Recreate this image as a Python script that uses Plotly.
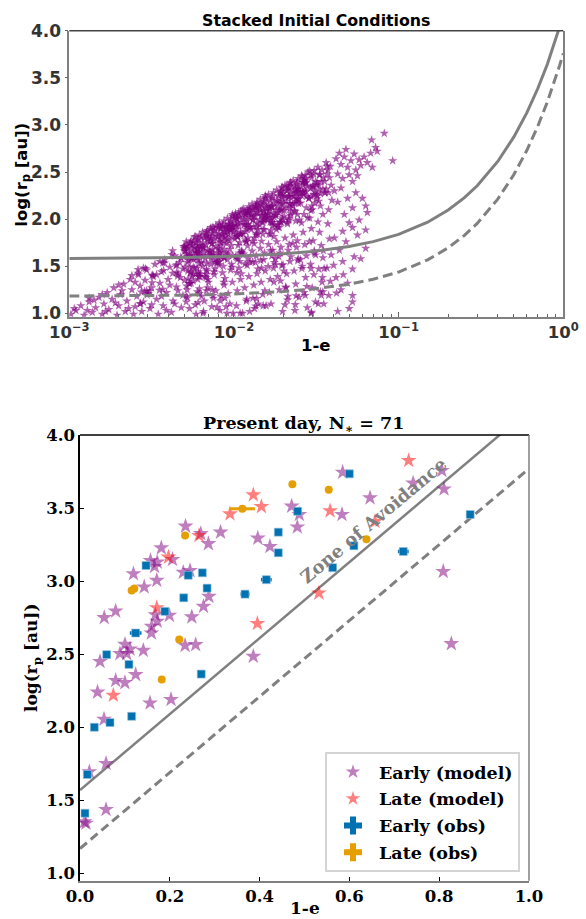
import plotly.graph_objects as go

W, H = 586, 919

# ---------------- TOP PANEL DATA: (log10(1-e), log10(r_p/au)) ----------------
ic_left = [
    (-2.99, 0.99), (-2.96, 1.03), (-2.93, 1.08), (-2.91, 0.98), (-2.88, 1.12), (-2.86, 1.01), (-2.84, 1.06),
    (-2.82, 1.17), (-2.80, 0.99), (-2.79, 1.10), (-2.77, 1.22), (-2.76, 1.04), (-2.74, 1.15), (-2.73, 1.27),
    (-2.71, 0.98), (-2.70, 1.08), (-2.69, 1.20), (-2.67, 1.31), (-2.66, 1.02), (-2.65, 1.13), (-2.63, 1.36),
    (-2.62, 1.25), (-2.61, 0.99), (-2.60, 1.07), (-2.59, 1.18), (-2.58, 1.41), (-2.57, 1.29), (-2.56, 1.02),
    (-2.55, 1.12), (-2.54, 1.35), (-2.53, 1.46), (-2.52, 1.21), (-2.51, 1.05), (-2.50, 1.27), (-2.49, 1.39),
    (-2.48, 1.52), (-2.47, 1.15), (-2.46, 0.99), (-2.45, 1.32), (-2.44, 1.44), (-2.43, 1.08), (-2.42, 1.57),
    (-2.41, 1.22), (-2.40, 1.36), (-2.39, 1.49), (-2.38, 1.01), (-2.37, 1.13), (-2.36, 1.61), (-2.35, 1.28),
    (-2.34, 1.42), (-2.33, 1.54), (-2.32, 1.06), (-2.31, 1.19), (-2.30, 1.66), (-2.30, 1.35), (-2.31, 1.47),
    (-2.97, 1.05), (-2.89, 1.03), (-2.85, 1.14), (-2.78, 1.02), (-2.72, 1.11), (-2.68, 1.24), (-2.64, 1.05),
    (-2.60, 1.33), (-2.57, 1.10), (-2.53, 1.24), (-2.50, 1.09), (-2.47, 1.41), (-2.44, 1.18), (-2.41, 1.03),
    (-2.39, 1.30), (-2.36, 1.10), (-2.34, 1.24), (-2.32, 1.58), (-2.325, 1.38), (-2.45, 1.55), (-2.55, 1.48),
    (-2.62, 1.40), (-2.70, 1.30), (-2.80, 1.20), (-2.88, 1.16),
    (-2.5625, 1.225), (-2.5825, 1.465), (-2.5675, 1.105), (-2.5825, 1.425),
    (-2.5125, 1.235), (-2.5375, 1.475), (-2.5425, 1.235), (-2.5275, 1.195),
    (-2.4975, 1.325), (-2.4525, 1.245), (-2.4975, 1.405), (-2.4925, 1.405),
    (-2.4225, 1.535), (-2.4325, 1.535), (-2.4275, 1.455), (-2.4325, 1.255),
    (-2.3725, 1.665), (-2.3775, 1.625), (-2.3525, 1.505), (-2.3725, 1.425),
    (-2.3425, 1.395), (-2.3475, 1.515), (-2.3225, 1.595), (-2.3475, 1.435),
]

ic_core_a = [
    (-2.29, 1.76), (-2.28, 1.70), (-2.27, 1.64), (-2.26, 1.58), (-2.295, 1.66), (-2.285, 1.60), (-2.265, 1.74),
    (-2.255, 1.68), (-2.275, 1.56), (-2.26, 1.77), (-2.29, 1.72), (-2.27, 1.61),
    (-2.28, 1.45), (-2.26, 1.32), (-2.29, 1.18), (-2.27, 1.05), (-2.255, 1.39), (-2.285, 1.25),
    (-2.24, 1.81), (-2.23, 1.75), (-2.22, 1.69), (-2.21, 1.62), (-2.245, 1.57), (-2.235, 1.66), (-2.215, 1.79),
    (-2.205, 1.72), (-2.225, 1.59), (-2.21, 1.83), (-2.24, 1.70), (-2.22, 1.77), (-2.23, 1.64),
    (-2.24, 1.48), (-2.22, 1.36), (-2.21, 1.21), (-2.235, 1.09), (-2.215, 1.42), (-2.23, 0.99),
    (-2.19, 1.86), (-2.18, 1.80), (-2.17, 1.73), (-2.16, 1.67), (-2.195, 1.61), (-2.185, 1.70), (-2.165, 1.84),
    (-2.155, 1.77), (-2.175, 1.58), (-2.16, 1.88), (-2.19, 1.75), (-2.17, 1.82), (-2.18, 1.64),
    (-2.19, 1.50), (-2.17, 1.38), (-2.16, 1.27), (-2.18, 1.13), (-2.165, 1.45), (-2.185, 1.02), (-2.155, 1.33),
    (-2.14, 1.91), (-2.13, 1.85), (-2.12, 1.78), (-2.11, 1.71), (-2.145, 1.65), (-2.135, 1.74), (-2.115, 1.89),
    (-2.105, 1.82), (-2.125, 1.62), (-2.11, 1.93), (-2.14, 1.80), (-2.12, 1.87), (-2.13, 1.68),
    (-2.14, 1.52), (-2.12, 1.41), (-2.11, 1.24), (-2.135, 1.07), (-2.115, 1.47), (-2.125, 1.16),
    (-2.09, 1.96), (-2.08, 1.90), (-2.07, 1.83), (-2.06, 1.76), (-2.095, 1.69), (-2.085, 1.79), (-2.065, 1.94),
    (-2.055, 1.87), (-2.075, 1.65), (-2.06, 1.98), (-2.09, 1.85), (-2.07, 1.92), (-2.08, 1.72),
    (-2.09, 1.55), (-2.07, 1.43), (-2.06, 1.30), (-2.08, 1.18), (-2.065, 1.50), (-2.085, 1.03), (-2.055, 1.37),
    (-2.04, 2.01), (-2.03, 1.95), (-2.02, 1.88), (-2.01, 1.81), (-2.045, 1.74), (-2.035, 1.84), (-2.015, 1.99),
    (-2.005, 1.92), (-2.025, 1.68), (-2.01, 2.03), (-2.04, 1.90), (-2.02, 1.97), (-2.03, 1.77),
    (-2.04, 1.57), (-2.02, 1.46), (-2.01, 1.33), (-2.035, 1.21), (-2.015, 1.52), (-2.025, 1.10), (-2.005, 1.00),
    (-1.99, 2.06), (-1.98, 2.00), (-1.97, 1.93), (-1.96, 1.86), (-1.995, 1.79), (-1.985, 1.89), (-1.965, 2.04),
    (-1.955, 1.97), (-1.975, 1.72), (-1.96, 2.08), (-1.99, 1.95), (-1.97, 2.02), (-1.98, 1.82), (-1.965, 1.75),
    (-1.99, 1.60), (-1.97, 1.48), (-1.96, 1.36), (-1.98, 1.24), (-1.965, 1.55), (-1.985, 1.08), (-1.955, 1.42),
]

ic_core_b = [
    (-1.94, 2.11), (-1.93, 2.05), (-1.92, 1.98), (-1.91, 1.91), (-1.945, 1.84), (-1.935, 1.94), (-1.915, 2.09),
    (-1.905, 2.02), (-1.925, 1.76), (-1.91, 2.13), (-1.94, 2.00), (-1.92, 2.07), (-1.93, 1.87), (-1.915, 1.80),
    (-1.94, 1.63), (-1.92, 1.51), (-1.91, 1.39), (-1.935, 1.27), (-1.915, 1.58), (-1.925, 1.13), (-1.905, 1.02),
    (-1.89, 2.16), (-1.88, 2.10), (-1.87, 2.03), (-1.86, 1.96), (-1.895, 1.89), (-1.885, 1.99), (-1.865, 2.14),
    (-1.855, 2.07), (-1.875, 1.80), (-1.86, 2.18), (-1.89, 2.05), (-1.87, 2.12), (-1.88, 1.92), (-1.865, 1.85),
    (-1.89, 1.66), (-1.87, 1.54), (-1.86, 1.42), (-1.88, 1.30), (-1.865, 1.61), (-1.885, 1.16), (-1.855, 1.47),
    (-1.875, 1.05),
    (-1.84, 2.21), (-1.83, 2.15), (-1.82, 2.08), (-1.81, 2.01), (-1.845, 1.94), (-1.835, 2.04), (-1.815, 2.19),
    (-1.805, 2.12), (-1.825, 1.84), (-1.81, 2.23), (-1.84, 2.10), (-1.82, 2.17), (-1.83, 1.97), (-1.815, 1.89),
    (-1.84, 1.69), (-1.82, 1.57), (-1.81, 1.45), (-1.835, 1.33), (-1.815, 1.64), (-1.825, 1.20), (-1.805, 1.08),
    (-1.79, 2.26), (-1.78, 2.20), (-1.77, 2.13), (-1.76, 2.06), (-1.795, 1.99), (-1.785, 2.09), (-1.765, 2.24),
    (-1.755, 2.17), (-1.775, 1.88), (-1.76, 2.28), (-1.79, 2.15), (-1.77, 2.22), (-1.78, 2.02), (-1.765, 1.93),
    (-1.79, 1.73), (-1.77, 1.61), (-1.76, 1.48), (-1.78, 1.36), (-1.765, 1.67), (-1.785, 1.22), (-1.755, 1.54),
    (-1.775, 1.10),
    (-1.74, 2.31), (-1.73, 2.25), (-1.72, 2.18), (-1.71, 2.11), (-1.745, 2.04), (-1.735, 2.14), (-1.715, 2.29),
    (-1.705, 2.22), (-1.725, 1.91), (-1.71, 2.33), (-1.74, 2.20), (-1.72, 2.27), (-1.73, 2.07), (-1.715, 1.97),
    (-1.74, 1.76), (-1.72, 1.64), (-1.71, 1.51), (-1.735, 1.39), (-1.715, 1.70), (-1.725, 1.25), (-1.705, 1.02),
    (-1.69, 2.36), (-1.68, 2.30), (-1.67, 2.23), (-1.66, 2.16), (-1.695, 2.09), (-1.685, 2.19), (-1.665, 2.34),
    (-1.655, 2.27), (-1.675, 1.95), (-1.66, 2.38), (-1.69, 2.25), (-1.67, 2.32), (-1.68, 2.12), (-1.665, 2.01),
    (-1.69, 1.80), (-1.67, 1.67), (-1.66, 1.55), (-1.68, 1.42), (-1.665, 1.73), (-1.685, 1.28), (-1.655, 1.60),
    (-1.675, 1.14),
    (-1.64, 2.41), (-1.63, 2.35), (-1.62, 2.28), (-1.61, 2.21), (-1.645, 2.14), (-1.635, 2.24), (-1.615, 2.39),
    (-1.605, 2.32), (-1.625, 1.98), (-1.61, 2.43), (-1.64, 2.30), (-1.62, 2.37), (-1.63, 2.17), (-1.615, 2.05),
    (-1.64, 1.83), (-1.62, 1.70), (-1.61, 1.58), (-1.635, 1.45), (-1.615, 1.77), (-1.625, 1.31), (-1.605, 1.17),
    (-1.63, 1.03),
]

ic_core_fill = [
    (-2.303, 1.69), (-2.283, 1.54), (-2.288, 1.69), (-2.298, 1.49), (-2.288, 1.29),
    (-2.278, 1.365), (-2.273, 1.315), (-2.248, 1.415), (-2.268, 1.315), (-2.258, 1.615),
    (-2.2225, 1.69), (-2.2475, 1.49), (-2.2525, 1.59), (-2.2275, 1.64), (-2.2175, 1.64),
    (-2.2175, 1.565), (-2.2325, 1.815), (-2.1925, 1.715), (-2.2025, 1.415), (-2.2325, 1.415),
    (-2.1975, 1.54), (-2.1775, 1.39), (-2.1875, 1.69), (-2.2075, 1.39), (-2.2125, 1.39),
    (-2.1525, 1.615), (-2.1675, 1.465), (-2.1425, 1.765), (-2.1675, 1.865), (-2.1675, 1.415),
    (-2.1275, 1.64), (-2.1225, 1.44), (-2.1575, 1.79), (-2.1325, 1.74), (-2.1425, 1.89),
    (-2.1275, 1.915), (-2.1375, 1.615), (-2.0975, 1.815), (-2.0925, 1.515), (-2.0925, 1.615),
    (-2.0975, 1.54), (-2.0925, 1.64), (-2.0725, 1.84), (-2.1025, 1.54), (-2.0875, 1.94),
    (-2.0525, 1.815), (-2.0875, 1.765), (-2.0575, 1.865), (-2.0525, 1.915), (-2.0425, 1.915),
    (-2.0625, 1.59), (-2.0225, 1.89), (-2.0325, 1.94), (-2.0375, 1.79), (-2.0575, 1.59),
    (-2.0375, 1.865), (-2.0075, 1.915), (-2.0075, 1.615), (-2.0175, 1.915), (-2.0025, 1.865),
    (-1.9925, 2.04), (-1.9825, 1.59), (-2.0125, 1.89), (-1.9675, 1.64), (-1.9875, 1.84),
    (-1.9775, 1.815), (-1.9725, 2.065), (-1.9825, 1.815), (-1.9525, 1.665), (-1.9775, 1.965),
    (-1.9625, 1.84), (-1.9225, 1.94), (-1.9575, 1.84), (-1.9525, 1.64), (-1.9225, 1.89),
    (-1.9025, 1.915), (-1.9175, 1.715), (-1.9125, 2.065), (-1.9375, 2.065), (-1.9275, 2.065),
    (-1.8775, 1.74), (-1.9125, 1.94), (-1.9075, 2.09), (-1.8675, 2.14), (-1.8975, 2.04),
    (-1.8875, 1.765), (-1.8625, 1.915), (-1.8625, 2.065), (-1.8625, 2.115), (-1.8425, 2.115),
    (-1.8525, 1.89), (-1.8175, 1.99), (-1.8425, 1.99), (-1.8225, 1.89), (-1.8175, 2.09),
    (-1.8225, 1.965), (-1.7975, 2.015), (-1.8325, 1.765), (-1.7925, 2.065), (-1.8075, 2.215),
    (-1.8075, 2.04), (-1.8125, 2.04), (-1.7675, 2.14), (-1.7775, 1.84), (-1.7875, 1.84),
    (-1.7725, 1.965), (-1.7675, 1.965), (-1.7675, 2.015), (-1.7575, 1.815), (-1.7825, 2.115),
    (-1.7325, 2.19), (-1.7425, 1.89), (-1.7225, 2.09), (-1.7525, 1.94), (-1.7475, 2.04),
    (-1.6975, 2.165), (-1.7225, 1.965), (-1.7325, 1.915), (-1.7075, 2.015), (-1.7125, 1.965),
    (-1.7075, 2.24), (-1.6675, 1.99), (-1.7125, 2.29), (-1.6675, 2.24), (-1.7075, 2.34),
    (-1.6625, 2.165), (-1.6575, 2.115), (-1.6575, 2.065), (-1.6425, 2.165), (-1.6775, 1.965),
    (-1.6425, 2.24), (-1.6225, 2.19), (-1.6325, 2.09), (-1.6575, 2.39), (-1.6625, 2.24),
    (-1.6075, 2.215), (-1.6075, 2.165), (-1.6175, 2.215), (-1.5975, 2.265), (-1.6275, 2.315),
    (-1.5825, 2.39), (-1.6125, 2.29), (-1.5775, 2.29), (-1.6025, 1.99), (-1.5825, 2.29),
    (-1.5675, 2.465), (-1.5825, 2.365), (-1.5775, 2.265), (-1.5525, 2.015), (-1.5725, 2.415),
    (-1.5275, 2.14), (-1.5625, 2.39), (-1.5625, 2.29), (-1.5325, 2.24), (-1.5325, 2.09),
    (-1.5125, 2.515), (-1.4975, 2.215), (-1.4975, 2.365), (-1.5325, 2.465), (-1.5025, 2.265),
]

ic_core_upper = [
    (-2.200, 1.69), (-2.210, 1.53), (-2.165, 1.53), (-2.200, 1.81), (-2.210, 1.65),
    (-2.115, 1.54), (-2.150, 1.66), (-2.135, 1.82), (-2.140, 1.58), (-2.160, 1.82),
    (-2.095, 1.59), (-2.080, 1.91), (-2.090, 1.67), (-2.095, 1.91), (-2.080, 1.75),
    (-2.015, 1.72), (-2.060, 1.68), (-2.045, 1.64), (-2.030, 1.92), (-2.060, 1.80),
    (-2.010, 2.05), (-1.985, 2.01), (-1.995, 2.01), (-2.010, 1.93), (-1.985, 1.93),
    (-1.940, 1.94), (-1.930, 1.78), (-1.925, 1.76), (-1.935, 2.02), (-1.950, 2.10),
    (-1.890, 2.11), (-1.880, 2.03), (-1.865, 1.83), (-1.885, 1.99), (-1.905, 2.11),
    (-1.855, 1.84), (-1.830, 2.04), (-1.860, 2.16), (-1.815, 2.00), (-1.840, 2.16),
    (-1.800, 2.13), (-1.775, 2.13), (-1.810, 2.25), (-1.795, 2.05), (-1.780, 1.97),
    (-1.715, 2.10), (-1.755, 2.02), (-1.710, 2.16), (-1.735, 1.94), (-1.745, 2.10),
    (-1.680, 2.35), (-1.705, 1.99), (-1.705, 2.27), (-1.675, 2.31), (-1.695, 2.03),
    (-1.630, 2.08), (-1.655, 2.36), (-1.655, 2.04), (-1.625, 2.28), (-1.615, 2.32),
    (-1.605, 2.33), (-1.570, 2.41), (-1.585, 2.45), (-1.590, 2.25), (-1.565, 2.38),
    (-1.550, 2.50), (-1.545, 2.22), (-1.525, 2.34), (-1.515, 2.34), (-1.515, 2.26),
    (-1.485, 2.31), (-1.480, 2.47), (-1.475, 2.27), (-1.495, 2.39), (-1.485, 2.19),
    (-1.435, 2.56), (-1.450, 2.28), (-1.425, 2.28), (-1.450, 2.40), (-1.440, 2.32),
    (-2.225, 1.48), (-2.215, 1.44), (-2.245, 1.76), (-2.220, 1.72), (-2.255, 1.72),
    (-2.265, 1.43), (-2.290, 1.63), (-2.265, 1.75), (-2.305, 1.71), (-2.300, 1.71),
]

ic_core_lower = [
    (-2.2675, 1.495), (-2.2625, 1.440), (-2.2825, 1.165), (-2.2900, 1.120),
    (-2.2475, 1.342), (-2.2175, 1.114), (-2.2225, 1.228), (-2.2100, 1.260),
    (-2.1575, 1.360), (-2.1675, 1.240), (-2.1975, 1.180), (-2.1875, 1.000),
    (-2.1025, 1.063), (-2.1275, 1.189), (-2.1175, 1.567), (-2.1325, 1.252),
    (-2.0775, 1.594), (-2.0625, 1.330), (-2.0825, 1.132), (-2.0550, 1.160),
    (-2.0475, 1.070), (-2.0375, 1.630), (-2.0425, 1.000), (-2.0125, 1.490),
    (-1.9525, 1.648), (-1.9775, 1.576), (-1.9825, 1.432), (-1.9625, 1.000),
    (-1.9475, 1.000), (-1.9225, 1.150), (-1.9325, 1.525), (-1.9025, 1.545),
    (-1.8625, 1.156), (-1.8675, 1.078), (-1.8875, 1.546), (-1.8525, 1.100),
    (-1.8125, 1.240), (-1.8225, 1.080), (-1.8375, 1.560), (-1.8325, 1.480),
    (-1.7775, 1.664), (-1.7575, 1.332), (-1.7925, 1.498), (-1.7500, 1.581),
    (-1.7175, 1.344), (-1.7025, 1.516), (-1.7275, 1.602), (-1.7475, 1.516),
    (-1.6975, 1.450), (-1.6900, 1.090), (-1.6850, 1.270), (-1.6725, 1.180),
    (-1.6125, 1.558), (-1.6425, 1.744), (-1.6275, 1.093), (-1.6225, 1.186),
    (-1.5675, 1.190), (-1.5975, 1.570), (-1.5575, 1.285), (-1.5875, 1.475),
    (-1.5125, 1.665), (-1.5050, 1.620), (-1.5425, 1.760), (-1.5325, 1.475),
    (-1.4625, 1.380), (-1.4700, 1.190), (-1.4575, 1.665), (-1.4525, 1.475),
]

ic_mid = [
    (-1.59, 2.46), (-1.58, 2.39), (-1.57, 2.31), (-1.56, 2.24), (-1.595, 2.17), (-1.585, 2.28), (-1.565, 2.43),
    (-1.555, 2.35), (-1.575, 2.05), (-1.56, 2.12), (-1.59, 1.96),
    (-1.58, 1.86), (-1.57, 1.73), (-1.56, 1.61), (-1.585, 1.50), (-1.565, 1.38), (-1.575, 1.22), (-1.555, 1.06),
    (-1.54, 2.51), (-1.53, 2.44), (-1.52, 2.36), (-1.51, 2.29), (-1.545, 2.22), (-1.535, 2.33), (-1.515, 2.48),
    (-1.505, 2.40), (-1.525, 2.10), (-1.51, 2.17), (-1.54, 2.01),
    (-1.53, 1.90), (-1.52, 1.77), (-1.51, 1.64), (-1.535, 1.52), (-1.515, 1.41), (-1.525, 1.27), (-1.505, 1.12),
    (-1.53, 1.01),
    (-1.49, 2.55), (-1.48, 2.47), (-1.47, 2.40), (-1.46, 2.32), (-1.495, 2.25), (-1.485, 2.36), (-1.465, 2.52),
    (-1.455, 2.44), (-1.475, 2.14), (-1.46, 2.05), (-1.49, 1.97),
    (-1.48, 1.86), (-1.47, 1.72), (-1.46, 1.59), (-1.485, 1.47), (-1.465, 1.33), (-1.475, 1.23), (-1.455, 1.10),
    (-1.44, 2.60), (-1.43, 2.52), (-1.42, 2.44), (-1.41, 2.36), (-1.445, 2.28), (-1.435, 2.48), (-1.415, 2.56),
    (-1.405, 2.20), (-1.425, 2.10),
    (-1.43, 1.95), (-1.42, 1.79), (-1.41, 1.62), (-1.435, 1.48), (-1.415, 1.34), (-1.425, 1.19),
]

ic_right = [
    (-1.38, 2.64), (-1.36, 2.70), (-1.35, 2.58), (-1.33, 2.66), (-1.32, 2.74), (-1.31, 2.55), (-1.29, 2.62),
    (-1.27, 2.69), (-1.26, 2.52), (-1.24, 2.63), (-1.23, 2.57), (-1.21, 2.66), (-1.37, 2.48), (-1.34, 2.43),
    (-1.30, 2.47), (-1.28, 2.40), (-1.25, 2.46),
    (-1.087, 2.91), (-1.036, 2.62), (-1.164, 2.84), (-1.14, 2.76), (-1.13, 2.72), (-1.17, 2.70), (-1.19, 2.60),
    (-1.16, 2.55),
    (-1.39, 2.30), (-1.37, 2.18), (-1.35, 2.33), (-1.33, 2.05), (-1.31, 2.22), (-1.30, 1.96), (-1.28, 2.12),
    (-1.26, 2.28), (-1.22, 2.22), (-1.20, 2.14), (-1.19, 2.07), (-1.20, 1.885), (-1.28, 1.91), (-1.20, 1.69),
    (-1.27, 1.60), (-1.23, 1.58), (-1.28, 1.47), (-1.336, 1.41), (-1.28, 1.19), (-1.28, 1.12), (-1.488, 1.10),
    (-1.53, 1.00), (-1.377, 1.215), (-1.35, 1.25), (-1.46, 1.23), (-1.39, 1.80), (-1.36, 1.67), (-1.34, 1.55),
    (-1.32, 1.76), (-1.38, 1.38), (-1.31, 1.32), (-1.25, 1.83), (-1.24, 1.99), (-1.34, 1.87), (-1.395, 1.51),
    (-1.30, 1.05), (-1.37, 1.02),
]

ic_all = ic_left + ic_core_a + ic_core_b + ic_core_fill + ic_core_upper + ic_core_lower + ic_mid + ic_right
ic_one_minus_e = [10 ** lx for lx, _ in ic_all]
ic_log_rp = [lr for _, lr in ic_all]

# zone-of-avoidance boundaries
zoa_top_x = [0.001, 0.002, 0.005, 0.01, 0.02, 0.03, 0.05, 0.07, 0.1, 0.15, 0.2, 0.25, 0.3, 0.4,
             0.5, 0.6, 0.7, 0.8, 0.9, 0.95, 1.0]
zoa_top_solid = [1.583, 1.585, 1.593, 1.606, 1.632, 1.657, 1.709, 1.761, 1.838, 1.967, 2.096, 2.225,
                 2.354, 2.612, 2.870, 3.128, 3.386, 3.644, 3.902, 4.031, 4.160]
zoa_top_dashed = [1.183, 1.185, 1.193, 1.206, 1.232, 1.257, 1.309, 1.361, 1.438, 1.567, 1.696, 1.825,
                  1.954, 2.212, 2.470, 2.728, 2.986, 3.244, 3.502, 3.631, 3.760]

# ---------------- BOTTOM PANEL DATA ----------------
early_model_x = [0.235, 0.269, 0.286, 0.313, 0.181, 0.157, 0.172, 0.166, 0.206, 0.119, 0.171, 0.143,
                 0.230, 0.245, 0.287, 0.275, 0.249, 0.199, 0.168, 0.172, 0.1596, 0.159, 0.0794, 0.054,
                 0.1002, 0.089, 0.104, 0.1115, 0.141, 0.234, 0.2576, 0.0445, 0.124, 0.0794, 0.100, 0.039,
                 0.156, 0.2027, 0.0535, 0.0208, 0.058, 0.058, 0.0097, 0.0134, 0.386, 0.396, 0.423, 0.4714,
                 0.4885, 0.484, 0.585, 0.806, 0.742, 0.8107, 0.646, 0.5835, 0.809, 0.827]
early_model_y = [3.376, 3.325, 3.256, 3.335, 3.227, 3.141, 3.130, 3.100, 3.148, 3.050, 3.005, 2.960,
                 3.060, 3.072, 2.895, 2.827, 2.755, 2.766, 2.770, 2.725, 2.690, 2.645, 2.795, 2.750,
                 2.567, 2.504, 2.504, 2.535, 2.526, 2.560, 2.565, 2.450, 2.360, 2.320, 2.305, 2.240,
                 2.166, 2.190, 2.055, 1.695, 1.752, 1.437, 1.352, 1.343, 2.485, 3.294, 3.237, 3.513,
                 3.456, 3.370, 3.745, 3.757, 3.670, 3.630, 3.570, 3.456, 3.066, 2.572]

late_model_x = [0.386, 0.404, 0.334, 0.265, 0.197, 0.171, 0.395, 0.0742, 0.732, 0.557, 0.657, 0.532]
late_model_y = [3.590, 3.510, 3.460, 3.312, 3.164, 2.818, 2.710, 2.219, 3.825, 3.481, 3.408, 2.918]

early_obs_x = [0.147, 0.241, 0.2725, 0.283, 0.231, 0.189, 0.124, 0.0594, 0.109, 0.270, 0.115, 0.0668,
               0.0319, 0.0163, 0.0111, 0.3675, 0.415, 0.4417, 0.4417, 0.4848, 0.600, 0.610, 0.5628,
               0.720, 0.869]
early_obs_y = [3.107, 3.040, 3.057, 2.952, 2.886, 2.793, 2.645, 2.497, 2.430, 2.364, 2.075, 2.032,
               2.000, 1.677, 1.412, 2.911, 3.010, 3.335, 3.194, 3.478, 3.734, 3.242, 3.092,
               3.203, 3.456]
early_obs_xerr = [0, 0.009, 0, 0, 0, 0, 0.013, 0, 0, 0, 0, 0,
                  0, 0, 0, 0.010, 0.012, 0, 0, 0, 0, 0, 0,
                  0.012, 0]

late_obs_x = [0.473, 0.3615, 0.234, 0.115, 0.121, 0.221, 0.182, 0.554, 0.638]
late_obs_y = [3.663, 3.495, 3.312, 2.936, 2.950, 2.600, 2.326, 3.625, 3.287]
late_obs_xerr = [0, 0.028, 0, 0, 0, 0, 0, 0, 0]

zoa_x = [0.0, 1.0]
zoa_solid = [1.57, 4.17]
zoa_dashed = [1.17, 3.77]

# ---------------- STYLE ----------------
PURPLE = "#800080"
RED = "#ff0000"
BLUE = "#0072B2"
ORANGE = "#E69F00"
GREY = "#808080"
SANS = "DejaVu Sans"
SERIF = "DejaVu Serif"

fig = go.Figure()

# top panel
fig.add_trace(go.Scatter(x=ic_one_minus_e, y=ic_log_rp, mode="markers", xaxis="x", yaxis="y",
                         marker=dict(symbol="star", size=7, color=PURPLE, opacity=0.62, line=dict(width=0)),
                         showlegend=False, hoverinfo="skip"))
fig.add_trace(go.Scatter(x=zoa_top_x, y=zoa_top_solid, mode="lines", xaxis="x", yaxis="y",
                         line=dict(color=GREY, width=3), showlegend=False))
fig.add_trace(go.Scatter(x=zoa_top_x, y=zoa_top_dashed, mode="lines", xaxis="x", yaxis="y",
                         line=dict(color=GREY, width=3, dash="10px,5px"), showlegend=False))

# bottom panel
fig.add_trace(go.Scatter(x=zoa_x, y=zoa_solid, mode="lines", xaxis="x2", yaxis="y2",
                         line=dict(color=GREY, width=2.5), showlegend=False))
fig.add_trace(go.Scatter(x=zoa_x, y=zoa_dashed, mode="lines", xaxis="x2", yaxis="y2",
                         line=dict(color=GREY, width=3, dash="9px,5px"), showlegend=False))
fig.add_trace(go.Scatter(x=early_model_x, y=early_model_y, mode="markers", xaxis="x2", yaxis="y2",
                         marker=dict(symbol="star", size=12, color=PURPLE, opacity=0.5, line=dict(width=0)),
                         showlegend=False))
fig.add_trace(go.Scatter(x=late_model_x, y=late_model_y, mode="markers", xaxis="x2", yaxis="y2",
                         marker=dict(symbol="star", size=12, color=RED, opacity=0.5, line=dict(width=0)),
                         showlegend=False))
fig.add_trace(go.Scatter(x=early_obs_x, y=early_obs_y, mode="markers", xaxis="x2", yaxis="y2",
                         marker=dict(symbol="square", size=8, color=BLUE, line=dict(width=0.6, color="#9cc3dc")),
                         error_x=dict(type="data", array=early_obs_xerr, thickness=3.5, width=0, color=BLUE),
                         showlegend=False))
fig.add_trace(go.Scatter(x=late_obs_x, y=late_obs_y, mode="markers", xaxis="x2", yaxis="y2",
                         marker=dict(symbol="circle", size=8, color=ORANGE, line=dict(width=0)),
                         error_x=dict(type="data", array=late_obs_xerr, thickness=3, width=0, color=ORANGE),
                         showlegend=False))

# legend entries
legend_entries = [
    ("Early (model)", "star", 11, "rgba(128,0,128,0.5)"),
    ("Late (model)", "star", 11, "rgba(255,0,0,0.5)"),
    ("Early (obs)", "cross", 15, BLUE),
    ("Late (obs)", "cross", 15, ORANGE),
]
for i, (name, sym, sz, col) in enumerate(legend_entries):
    fig.add_trace(go.Scatter(x=[None], y=[None], mode="markers", xaxis="x2", yaxis="y2", name=name,
                             legendgroup=f"g{i}",
                             marker=dict(symbol=sym, size=sz, color=col, line=dict(width=0))))

# ---------------- LAYOUT ----------------
def px_x(p):
    return p / W

def px_y(p):
    return 1 - p / H

top_x_dom = [px_x(69.3), px_x(563.3)]
top_y_dom = [px_y(316.7), px_y(30.7)]
bot_x_dom = [px_x(80), px_x(529)]
bot_y_dom = [px_y(880.7), px_y(435)]

minor_log = [m * 10 ** e for e in (-3, -2, -1) for m in range(2, 10)]

top_tickfont = dict(family=SANS, size=17, color="#333333", weight="bold")
top_xtickfont = dict(family=SANS, size=16.5, color="#333333", weight="bold")
bot_tickfont = dict(family=SERIF, size=16.5, color="black", weight="bold")

fig.update_layout(
    width=W, height=H, autosize=False,
    margin=dict(l=0, r=0, t=0, b=0, autoexpand=False),
    paper_bgcolor="white", plot_bgcolor="white",
    xaxis=dict(type="log", range=[-3, 0], domain=top_x_dom, anchor="y", automargin=False,
               tickmode="array", tickvals=[0.001, 0.01, 0.1, 1],
               ticktext=["10<sup>−3</sup>", "10<sup>−2</sup>", "10<sup>−1</sup>", "10<sup>0</sup>"],
               ticks="inside", ticklen=5, tickwidth=1, tickcolor="#666666",
               minor=dict(tickmode="array", tickvals=minor_log, ticks="inside", ticklen=2.5,
                          tickwidth=1, tickcolor="#666666", showgrid=False),
               tickfont=top_xtickfont, showgrid=False, zeroline=False,
               showline=True, linecolor=GREY, linewidth=1.5, mirror=False),
    yaxis=dict(range=[0.964, 4.0], domain=top_y_dom, anchor="x", automargin=False,
               tick0=1.0, dtick=0.5, tickformat=".1f",
               ticks="outside", ticklen=3, tickwidth=1, tickcolor="#666666",
               tickfont=top_tickfont, showgrid=False, zeroline=False,
               showline=True, linecolor=GREY, linewidth=1.5, mirror=True),
    xaxis2=dict(range=[0, 1], domain=bot_x_dom, anchor="y2", automargin=False,
                tick0=0, dtick=0.2, tickformat=".1f",
                ticks="inside", ticklen=4, tickwidth=1, tickcolor="black",
                tickfont=bot_tickfont, showgrid=False, zeroline=False,
                showline=True, linecolor=GREY, linewidth=1.5, mirror=False),
    yaxis2=dict(range=[0.95, 4.0], domain=bot_y_dom, anchor="x2", automargin=False,
                tick0=1.0, dtick=0.5, tickformat=".1f",
                ticks="inside", ticklen=4, tickwidth=1, tickcolor="black",
                tickfont=bot_tickfont, showgrid=False, zeroline=False,
                showline=True, linecolor="black", linewidth=1.5, mirror=False),
    legend=dict(x=px_x(520), y=px_y(872), xanchor="right", yanchor="bottom",
                bgcolor="white", bordercolor="#d4d4d4", borderwidth=2,
                font=dict(family=SERIF, size=17.5, color="black", weight="bold"),
                tracegroupgap=1, itemwidth=42),
    shapes=[
        dict(type="line", xref="x domain", yref="y domain", x0=0, x1=1, y0=1, y1=1,
             line=dict(color="#444444", width=1.5)),
        dict(type="line", xref="x2 domain", yref="y2 domain", x0=0, x1=1, y0=1, y1=1,
             line=dict(color="black", width=1.5)),
        dict(type="line", xref="x2 domain", yref="y2 domain", x0=1, x1=1, y0=0, y1=1,
             line=dict(color=GREY, width=1.5)),
    ],
    annotations=[
        dict(text="Stacked Initial Conditions", xref="paper", yref="paper",
             x=px_x(316.3), y=px_y(20.7), xanchor="center", yanchor="middle", showarrow=False,
             font=dict(family=SANS, size=15.8, color="black", weight="bold")),
        dict(text="1-e", xref="paper", yref="paper", x=px_x(316.3), y=px_y(346),
             xanchor="center", yanchor="middle", showarrow=False,
             font=dict(family=SANS, size=16.5, color="black", weight="bold")),
        dict(text="log(r<sub>p</sub> [au])", xref="paper", yref="paper", x=px_x(21.7), y=px_y(175),
             xanchor="center", yanchor="middle", showarrow=False, textangle=-90,
             font=dict(family=SANS, size=16.5, color="black", weight="bold")),
        dict(text="Present day, N<sub>∗</sub> = 71", xref="paper", yref="paper",
             x=px_x(303.5), y=px_y(424), xanchor="center", yanchor="middle", showarrow=False,
             font=dict(family=SERIF, size=17.5, color="black", weight="bold")),
        dict(text="1-e", xref="paper", yref="paper", x=px_x(304.5), y=px_y(908),
             xanchor="center", yanchor="middle", showarrow=False,
             font=dict(family=SERIF, size=17, color="black", weight="bold")),
        dict(text="log(r<sub>p</sub> [au])", xref="paper", yref="paper", x=px_x(32), y=px_y(658),
             xanchor="center", yanchor="middle", showarrow=False, textangle=-90,
             font=dict(family=SERIF, size=17, color="black", weight="bold")),
        dict(text="Zone of Avoidance", xref="x2", yref="y2", x=0.6526, y=3.418,
             xanchor="center", yanchor="middle", showarrow=False, textangle=-40,
             font=dict(family=SERIF, size=18, color=GREY, weight="bold")),
    ],
)

fig.write_html("out.html", config={"displayModeBar": False},
               post_script="document.body.style.margin='0px';document.body.style.overflow='hidden';")
